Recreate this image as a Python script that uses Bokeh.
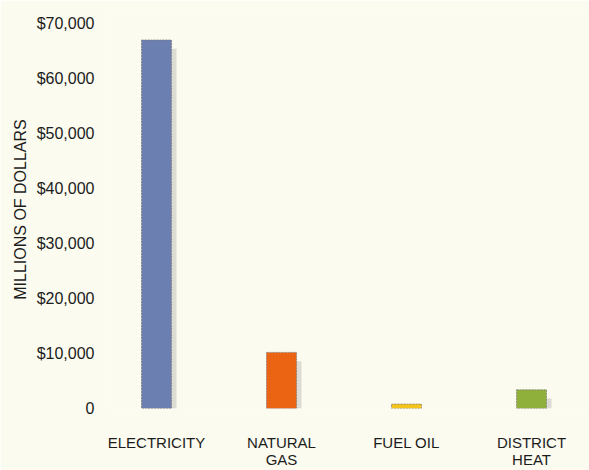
from bokeh.plotting import figure
from bokeh.models import Range1d, FixedTicker
from bokeh.embed import file_html
from bokeh.resources import INLINE

categories = ["ELECTRICITY", "NATURAL\nGAS", "FUEL OIL", "DISTRICT\nHEAT"]
values = [67000, 10200, 800, 3400]
colors = ["#6b7fb0", "#ea6414", "#f5c51c", "#8fb03a"]
y_ticks = [0, 10000, 20000, 30000, 40000, 50000, 60000, 70000]
y_tick_labels = ["0", "$10,000", "$20,000", "$30,000", "$40,000", "$50,000", "$60,000", "$70,000"]

xs = list(range(len(categories)))
bg = "#fbfbef"
font = "Liberation Sans"
txt = "#1c1c1c"

p = figure(width=589, height=470, output_backend="svg", toolbar_location=None,
           x_range=Range1d(-0.384, 3.464), y_range=Range1d(0, 72360),
           min_border_top=10, min_border_left=108, min_border_right=0, min_border_bottom=60)
p.background_fill_color = bg
p.border_fill_color = bg
p.outline_line_color = None
p.grid.visible = False

# shadows
shadow_tops = [v - 1600 if v > 1600 else 0 for v in values]
p.vbar(x=[x + 0.04 for x in xs], top=shadow_tops, bottom=0, width=0.24,
       fill_color="#dcdcd4", line_color=None)
p.vbar(x=xs, top=values, bottom=0, width=0.24, fill_color=colors,
       line_color="#7c7478", line_dash="2 1", line_width=1, line_alpha=0.7)

p.yaxis.ticker = FixedTicker(ticks=y_ticks)
p.yaxis.major_label_overrides = {t: l for t, l in zip(y_ticks, y_tick_labels)}
p.yaxis.axis_line_color = None
p.yaxis.major_tick_line_color = None
p.yaxis.minor_tick_line_color = None
p.yaxis.major_label_standoff = 8
p.yaxis.major_label_text_font = font
p.yaxis.major_label_text_font_size = "16px"
p.yaxis.major_label_text_color = txt
p.yaxis.axis_label = "MILLIONS OF DOLLARS"
p.yaxis.axis_label_text_font = font
p.yaxis.axis_label_text_font_style = "normal"
p.yaxis.axis_label_text_font_size = "16px"
p.yaxis.axis_label_text_color = txt
p.yaxis.axis_label_standoff = 5

p.xaxis.ticker = FixedTicker(ticks=xs)
p.xaxis.major_label_overrides = {x: c for x, c in zip(xs, categories)}
p.xaxis.axis_line_color = None
p.xaxis.major_tick_line_color = None
p.xaxis.minor_tick_line_color = None
p.xaxis.major_label_standoff = 19
p.xaxis.major_label_text_font = font
p.xaxis.major_label_text_font_size = "15px"
p.xaxis.major_label_text_color = txt
p.xaxis.major_label_text_line_height = 1.0

open("out.html", "w").write(file_html(p, INLINE))
